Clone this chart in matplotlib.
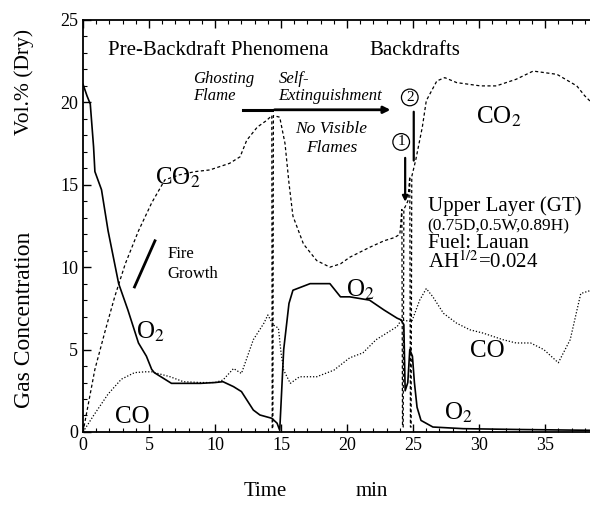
import matplotlib
matplotlib.use("Agg")
import matplotlib.pyplot as plt
from matplotlib.ticker import MultipleLocator

plt.rcParams['font.family'] = ['Liberation Serif', 'DejaVu Serif']
plt.rcParams['mathtext.fontset'] = 'stix'

# O2, solid line
time_o2 = [0, 0.3, 0.55, 0.8, 0.9, 1.4, 1.9, 2.7, 3.4, 4.2, 4.8, 5.2, 5.4, 6.7, 7.7,
           8.9, 10.0, 10.6, 11.4, 12.0, 12.9, 13.4, 14.3, 14.7, 14.9, 15.2, 15.6, 15.9,
           17.2, 18.7, 19.5, 20.2, 21.7, 22.8, 23.8, 24.1, 24.3, 24.4, 24.6, 24.75,
           24.95, 25.1, 25.3, 25.6, 26.5, 28.8, 33.0, 38.5]
o2 = [21.1, 20.4, 19.9, 17.3, 15.8, 14.7, 12.2, 9.0, 7.4, 5.4, 4.6, 3.8, 3.6, 2.95, 2.95,
      2.95, 3.0, 3.05, 2.75, 2.45, 1.33, 1.03, 0.83, 0.53, 0.1, 5.0, 7.8, 8.6,
      9.0, 9.0, 8.2, 8.2, 8.0, 7.4, 6.9, 6.8, 6.5, 2.5, 3.0, 5.0,
      4.6, 3.0, 1.5, 0.7, 0.3, 0.2, 0.15, 0.1]

# CO2, dashed line
time_co2 = [0, 0.9, 1.7, 2.4, 3.2, 4.2, 5.2, 6.2, 7.3, 8.5, 9.6, 11.1, 11.9, 12.4, 13.2,
            13.9, 14.3, 14.33, 14.38, 14.42, 14.9, 15.3, 15.6, 15.9, 16.7, 17.7, 18.7,
            19.5, 20.2, 21.7, 22.8, 23.6, 24.0, 24.15, 24.2, 24.25, 24.3, 24.6, 24.75,
            24.8, 24.85, 24.9, 25.2, 25.7, 26.0, 26.8, 27.4, 28.3, 30.1, 31.3, 32.8,
            34.1, 35.9, 37.4, 38.0, 38.5]
co2 = [0, 3.8, 6.2, 8.2, 10.2, 12.2, 13.9, 15.3, 15.6, 15.8, 15.9, 16.3, 16.7, 17.7, 18.5,
       18.9, 19.2, 0.2, 0.2, 19.2, 19.1, 17.5, 15.1, 13.1, 11.4, 10.4, 10.0,
       10.2, 10.6, 11.2, 11.6, 11.8, 12.0, 13.5, 0.3, 0.3, 13.5, 14.0, 15.5,
       0.3, 0.3, 15.5, 16.5, 18.5, 20.1, 21.3, 21.5, 21.2, 21.0, 21.0, 21.4,
       21.9, 21.7, 21.0, 20.4, 20.0]

# CO, dotted line
time_co = [0, 0.8, 1.9, 2.9, 3.9, 4.7, 5.2, 6.6, 7.6, 8.9, 10.0, 10.6, 11.4, 12.0, 12.9,
           13.7, 14.0, 14.4, 14.8, 15.0, 15.2, 15.7, 16.4, 17.7, 19.0, 20.2, 21.2, 22.2,
           23.0, 23.8, 24.1, 24.9, 25.5, 26.0, 26.5, 27.3, 28.3, 29.3, 30.3, 31.8, 32.8,
           33.9, 34.9, 36.0, 36.9, 37.7, 38.5]
co = [0, 1.0, 2.3, 3.2, 3.6, 3.65, 3.65, 3.35, 3.05, 3.0, 3.0, 3.15, 3.85, 3.55, 5.6,
      6.6, 7.1, 6.5, 6.3, 4.8, 3.75, 2.95, 3.35, 3.35, 3.75, 4.5, 4.8, 5.6,
      6.0, 6.4, 6.8, 6.7, 8.0, 8.7, 8.2, 7.2, 6.6, 6.2, 6.0, 5.6, 5.4,
      5.4, 5.0, 4.2, 5.6, 8.4, 8.6]


fig = plt.figure(figsize=(5.9, 5.07), dpi=100)
ax = fig.add_axes([0.1407, 0.148, 0.8593, 0.8126])

ax.plot(time_o2, o2, color='black', lw=1.2)
ax.plot(time_co2, co2, color='black', lw=0.9, linestyle=(0, (2.5, 2)))
ax.plot(time_co, co, color='black', lw=0.9, linestyle=(0, (1, 1.5)))

ax.set_xlim(0, 38.4)
ax.set_ylim(0, 25)
ax.xaxis.set_major_locator(MultipleLocator(5))
ax.xaxis.set_minor_locator(MultipleLocator(1))
ax.yaxis.set_major_locator(MultipleLocator(5))
ax.yaxis.set_minor_locator(MultipleLocator(1))
ax.tick_params(which='both', direction='in', top=True, right=False, labelsize=13)
ax.tick_params(which='major', length=6, width=1)
ax.tick_params(which='minor', length=3, width=0.8)
ax.spines['right'].set_visible(False)
for s in ['left', 'bottom', 'top']:
    ax.spines[s].set_linewidth(1.3)

# headings
ax.text(1.9, 23.15, 'Pre-Backdraft Phenomena', fontsize=15, va='center')
ax.text(21.7, 23.15, 'Backdrafts', fontsize=15, va='center')
ax.text(8.3, 20.9, 'Ghosting\nFlame', fontsize=12, style='italic', va='center',
        linespacing=1.1)
ax.text(14.8, 20.9, 'Self-\nExtinguishment', fontsize=12, style='italic', va='center',
        linespacing=1.1)
ax.text(18.8, 17.8, 'No Visible\nFlames', fontsize=12.5, style='italic', va='center',
        ha='center', linespacing=1.2)
ax.plot([12.1, 14.3], [19.55, 19.55], color='black', lw=2.2)
ax.annotate('', xy=(23.5, 19.55), xytext=(14.3, 19.55),
            arrowprops=dict(arrowstyle='-|>', color='black', lw=2, mutation_scale=10))

# fire growth
ax.plot([3.9, 5.45], [8.8, 11.6], color='black', lw=2)
ax.text(6.4, 10.2, 'Fire\nGrowth', fontsize=12, va='center', linespacing=1.3)

# series labels
ax.text(7.2, 15.45, 'CO$_2$', fontsize=18, ha='center', va='center')
ax.text(31.5, 19.15, 'CO$_2$', fontsize=18, ha='center', va='center')
ax.text(5.1, 6.05, 'O$_2$', fontsize=18, ha='center', va='center')
ax.text(21.0, 8.6, 'O$_2$', fontsize=18, ha='center', va='center')
ax.text(28.4, 1.15, 'O$_2$', fontsize=18, ha='center', va='center')
ax.text(3.7, 0.9, 'CO', fontsize=18, ha='center', va='center')
ax.text(30.6, 4.9, 'CO', fontsize=18, ha='center', va='center')

# test description
ax.text(26.1, 13.7, 'Upper Layer (GT)', fontsize=15, va='center')
ax.text(26.1, 12.5, '(0.75D,0.5W,0.89H)', fontsize=12.5, va='center')
ax.text(26.1, 11.45, 'Fuel: Lauan', fontsize=15, va='center')
ax.text(26.1, 10.3, 'AH$^{1/2}$=0.024', fontsize=15, va='center')

# backdraft markers
circ = dict(boxstyle='circle,pad=0.12', fc='white', ec='black', lw=0.9)
ax.text(24.1, 17.6, '1', fontsize=11, ha='center', va='center', bbox=circ)
ax.text(24.75, 20.3, '2', fontsize=11, ha='center', va='center', bbox=circ)
ax.annotate('', xy=(24.4, 13.8), xytext=(24.4, 16.8),
            arrowprops=dict(arrowstyle='-|>', color='black', lw=1.6, mutation_scale=8))
ax.annotate('', xy=(25.05, 16.3), xytext=(25.05, 19.6),
            arrowprops=dict(arrowstyle='-', color='black', lw=1.6))

# axis titles
fig.text(0.449, 0.03, 'Time', fontsize=15, ha='center', va='center')
fig.text(0.63, 0.03, 'min', fontsize=15, ha='center', va='center')
fig.text(0.041, 0.838, 'Vol.% (Dry)', fontsize=15.5, rotation=90, ha='center', va='center')
fig.text(0.041, 0.369, 'Gas Concentration', fontsize=17, rotation=90, ha='center',
         va='center')

fig.savefig('out.png', dpi=100)
